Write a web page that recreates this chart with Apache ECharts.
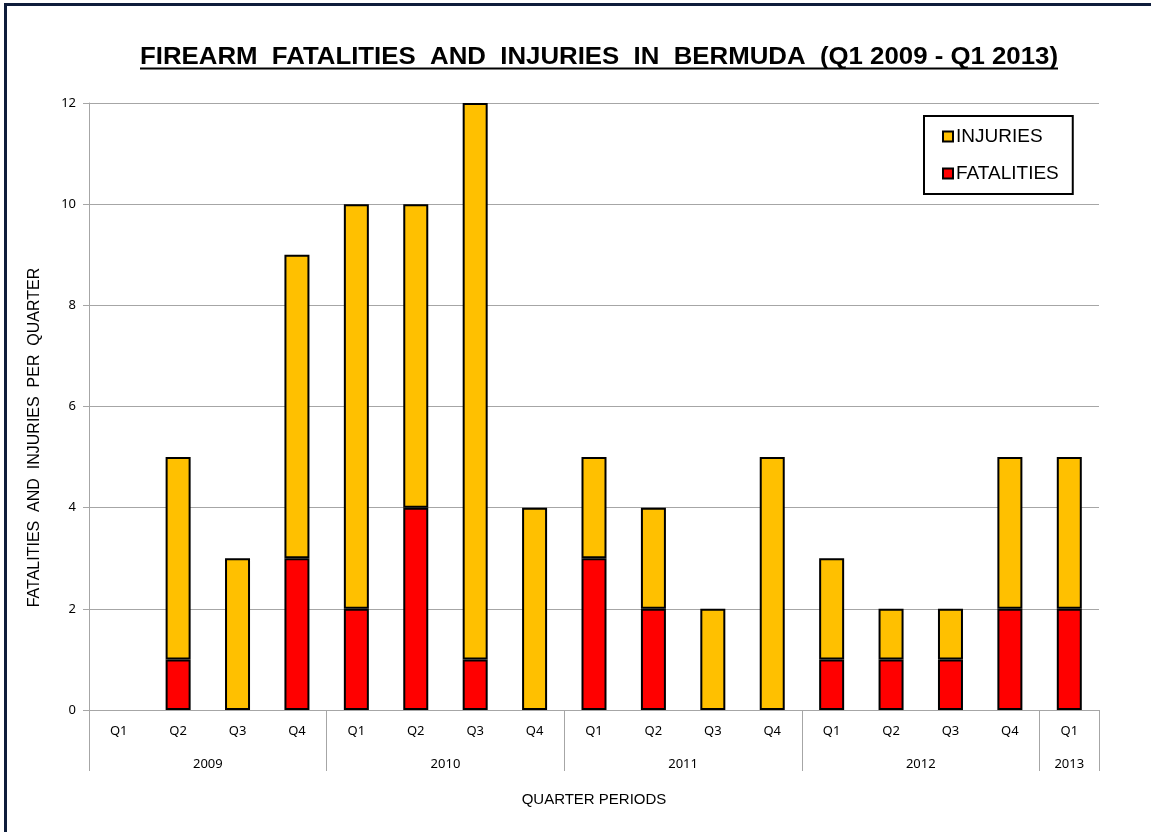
<!DOCTYPE html>
<html>
<head>
<meta charset="utf-8">
<script src="https://cdn.jsdelivr.net/npm/echarts@6/dist/echarts.min.js"></script>
<style>
  html, body { margin: 0; padding: 0; background: #fff; }
  #frame { position: absolute; left: 4px; top: 3px; width: 1147px; height: 829px;
           border-left: 3px solid #0e1d3b; border-top: 3px solid #0e1d3b; box-sizing: border-box; pointer-events: none; }
  #chart { position: absolute; left: 0; top: 0; width: 1151px; height: 832px; }
</style>
</head>
<body>
<div id="chart"></div>
<div id="frame"></div>
<script>
const quarters = ['Q1','Q2','Q3','Q4','Q1','Q2','Q3','Q4','Q1','Q2','Q3','Q4','Q1','Q2','Q3','Q4','Q1'];
const years = ['2009','2010','2011','2012','2013'];
const yearStarts = [0, 4, 8, 12, 16, 17];
const fatalities = [0,1,0,3, 2,4,1,0, 3,2,0,0, 1,1,1,2, 2];
const injuries   = [0,4,3,6, 8,6,11,4, 2,2,2,5, 2,1,1,3, 3];
const yTicks = [0, 2, 4, 6, 8, 10, 12];

const titleText = 'FIREARM  FATALITIES  AND  INJURIES  IN  BERMUDA  (Q1 2009 - Q1 2013)';
const yearCenters = yearStarts.slice(0, -1).map((s, i) => (s + yearStarts[i + 1]) / 2);
const hideZero = arr => arr.map(v => (v === 0 ? '-' : v));

// fit the title to the reference width
const titleFont = 'bold 24px "Liberation Sans"';
const ctx = document.createElement('canvas').getContext('2d');
ctx.font = titleFont;
const titleW = ctx.measureText(titleText).width;
const titleLeft = 140, titleRight = 1058;
const titleScale = (titleRight - titleLeft) / titleW;

const chart = echarts.init(document.getElementById('chart'));
const grey = '#a6a6a6';
chart.setOption({
  backgroundColor: '#fff',
  animation: false,
  graphic: [{
    type: 'text', x: (titleLeft + titleRight) / 2, y: 57.5, scaleX: titleScale,
    style: { text: titleText, font: titleFont, fill: '#000', align: 'center', verticalAlign: 'middle' }
  }, {
    type: 'line', shape: { x1: titleLeft, y1: 68.5, x2: titleRight, y2: 68.5 },
    style: { stroke: '#000', lineWidth: 2 }
  }],
  legend: {
    data: ['INJURIES', 'FATALITIES'],
    orient: 'vertical',
    left: 924, top: 116,
    padding: [11, 14, 11, 18],
    itemGap: 18,
    itemWidth: 10, itemHeight: 10,
    icon: 'rect',
    borderColor: '#000', borderWidth: 2,
    textStyle: { fontFamily: 'Liberation Sans', fontSize: 19, lineHeight: 19, color: '#000', padding: [0, 0, 0, -2] }
  },
  grid: { left: 89, right: 52, top: 103, bottom: 122 },
  xAxis: [{
    type: 'category',
    data: quarters,
    axisLine: { lineStyle: { color: grey, width: 1 } },
    axisTick: { length: 32, lineStyle: { color: grey } },
    axisLabel: { margin: 15, fontFamily: 'Noto Sans', fontSize: 13, color: '#000' }
  }, {
    type: 'value',
    min: 0, max: quarters.length,
    position: 'bottom',
    axisLine: { show: false },
    splitLine: { show: false },
    axisTick: { show: true, length: 61, customValues: yearStarts, lineStyle: { color: grey } },
    axisLabel: {
      margin: 48, fontFamily: 'Noto Sans', fontSize: 13, color: '#000',
      customValues: yearCenters,
      formatter: function (v) { const i = yearCenters.indexOf(v); return i >= 0 ? years[i] : ''; }
    },
    name: 'QUARTER PERIODS',
    nameLocation: 'middle',
    nameGap: 82,
    nameTextStyle: { fontFamily: 'Liberation Sans', fontSize: 15, color: '#000' }
  }],
  yAxis: {
    type: 'value',
    min: yTicks[0], max: yTicks[yTicks.length - 1], interval: 2,
    axisLine: { show: true, lineStyle: { color: grey } },
    axisTick: { show: true, length: 6, lineStyle: { color: grey } },
    splitLine: { lineStyle: { color: grey, width: 1 } },
    axisLabel: { margin: 13, fontFamily: 'Noto Sans', fontSize: 13, color: '#000' },
    name: 'FATALITIES  AND  INJURIES  PER  QUARTER',
    nameLocation: 'middle',
    nameGap: 46,
    nameTextStyle: { fontFamily: 'Liberation Sans', fontSize: 16, color: '#000', padding: [0, 62, 0, 0] }
  },
  series: [{
    name: 'FATALITIES', type: 'bar', stack: 'total', xAxisIndex: 0,
    data: hideZero(fatalities), barWidth: 25,
    itemStyle: { color: '#ff0000', borderColor: '#000', borderWidth: 2 }
  }, {
    name: 'INJURIES', type: 'bar', stack: 'total', xAxisIndex: 0,
    data: hideZero(injuries), barWidth: 25,
    itemStyle: { color: '#ffc000', borderColor: '#000', borderWidth: 2 }
  }]
});
</script>
</body>
</html>
